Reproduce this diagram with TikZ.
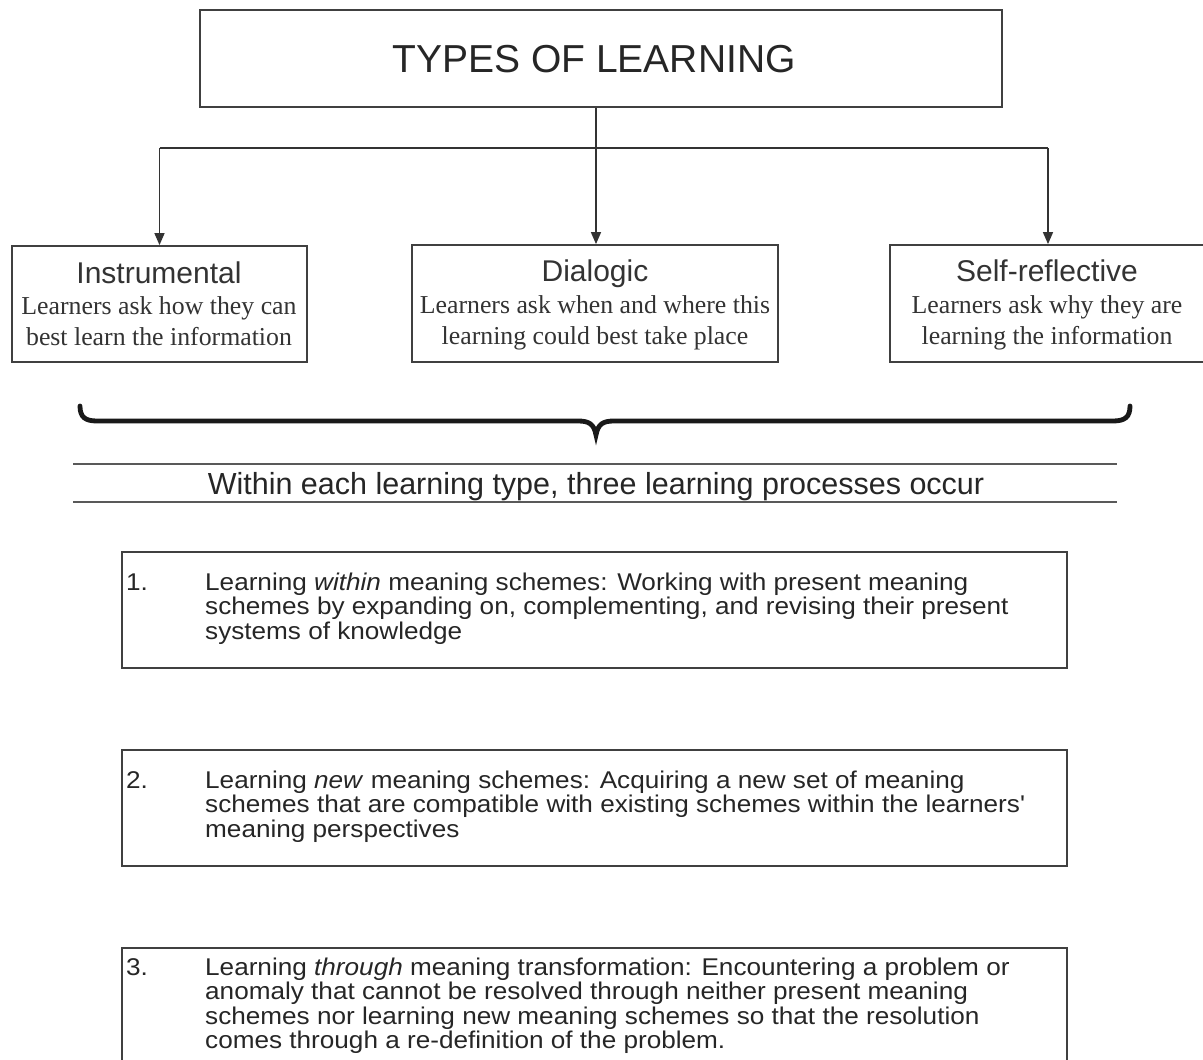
\documentclass[tikz,border=0pt]{standalone}
\usepackage{fontspec}
\setmainfont{Liberation Serif}
\setsansfont{Liberation Sans}
\newfontfamily\procfont[FakeStretch=1.08]{Liberation Sans}
\usetikzlibrary{arrows.meta}
\begin{document}
\begin{tikzpicture}[x=1pt,y=-1pt,
  box/.style={draw=black!75, line width=1.8pt, rectangle, inner sep=0pt},
  conn/.style={draw=black!80, line width=1.5pt},
  arr/.style={conn, -{Triangle[length=12pt,width=10pt]}},
  rule/.style={draw=black!65, line width=1.6pt},
  ttl/.style={inner sep=0pt, anchor=base, text=black!85, font=\sffamily\fontsize{39}{46}\selectfont},
  hd/.style={inner sep=0pt, anchor=base, text=black!80, font=\sffamily\fontsize{30}{35}\selectfont},
  sub/.style={inner sep=0pt, anchor=base, text=black!80, font=\rmfamily\fontsize{25.8}{31}\selectfont},
  mid/.style={inner sep=0pt, anchor=base, text=black!85, font=\sffamily\fontsize{30.5}{36}\selectfont},
  ln/.style={inner sep=0pt, anchor=base west, text=black!85, font=\procfont\fontsize{24.2}{26}\selectfont}
]
\useasboundingbox (0,0) rectangle (1203,1060);
\fill[white] (0,0) rectangle (1203,1060);

% title
\node[box, minimum width=802, minimum height=97] (T) at (601,58.5) {};
\node[ttl] (Tt) at (594,72) {TYPES OF LEARNING};

% type boxes
\node[box, minimum width=295, minimum height=116] (I) at (159.5,304) {};
\node[box, minimum width=366, minimum height=117] (D) at (595,303.5) {};
\node[box, minimum width=316, minimum height=117] (S) at (1048,303.5) {};

\node[hd] (Ih) at (159,283) {Instrumental};
\node[sub] (Ia) at (159,314) {Learners ask how they can};
\node[sub] (Ib) at (159,345) {best learn the information};

\node[hd] (Dh) at (595,281) {Dialogic};
\node[sub] (Da) at (595,313) {Learners ask when and where this};
\node[sub] (Db) at (595,344) {learning could best take place};

\node[hd] (Sh) at (1047,281) {Self-reflective};
\node[sub] (Sa) at (1047,313) {Learners ask why they are};
\node[sub] (Sb) at (1047,344) {learning the information};

% connectors
\coordinate (hb) at (596,148);
\draw[conn] (T.south -| hb) -- (hb);
\draw[conn] (I.north |- hb) -- (S.north |- hb);
\draw[arr] (I.north |- hb) -- (I.north);
\draw[arr] (hb) -- (D.north -| hb);
\draw[arr] (S.north |- hb) -- (S.north);

% brace
\coordinate (bl) at (80,406);
\coordinate (bt) at (596,435);
\coordinate (br) at (1130,406);
\draw[line width=4.8pt, line cap=round, black!90]
  (bl) .. controls (80,417) and (85,421) .. (97,421) -- (578,421)
  .. controls (589,421) and (594,424) .. (bt)
  .. controls (598,424) and (603,421) .. (614,421) -- (1113,421)
  .. controls (1125,421) and (1130,417) .. (br);

% rules and caption
\coordinate (r1l) at (73,464); \coordinate (r1r) at (1117,464);
\coordinate (r2l) at (73,502); \coordinate (r2r) at (1117,502);
\draw[rule] (r1l) -- (r1r);
\draw[rule] (r2l) -- (r2r);
\node[mid] (M) at (596,494) {Within each learning type, three learning processes occur};

% process boxes
\node[box, minimum width=945, minimum height=116] (P1) at (594.5,610) {};
\node[box, minimum width=945, minimum height=116] (P2) at (594.5,808) {};
\node[box, minimum width=945, minimum height=116] (P3) at (594.5,1006) {};

\node[ln] (n1) at (126,590) {1.};
\node[ln] (p1a) at (205,590) {Learning \textit{within} meaning schemes: Working with present meaning};
\node[ln] (p1b) at (205,614.5) {schemes by expanding on, complementing, and revising their present};
\node[ln] (p1c) at (205,639) {systems of knowledge};

\node[ln] (n2) at (126,788) {2.};
\node[ln] (p2a) at (205,788) {Learning \textit{new} meaning schemes: Acquiring a new set of meaning};
\node[ln] (p2b) at (205,812.5) {schemes that are compatible with existing schemes within the learners'};
\node[ln] (p2c) at (205,837) {meaning perspectives};

\node[ln] (n3) at (126,975) {3.};
\node[ln] (p3a) at (205,975) {Learning \textit{through} meaning transformation: Encountering a problem or};
\node[ln] (p3b) at (205,999.5) {anomaly that cannot be resolved through neither present meaning};
\node[ln] (p3c) at (205,1024) {schemes nor learning new meaning schemes so that the resolution};
\node[ln] (p3d) at (205,1048.5) {comes through a re-definition of the problem.};
\end{tikzpicture}
\end{document}
